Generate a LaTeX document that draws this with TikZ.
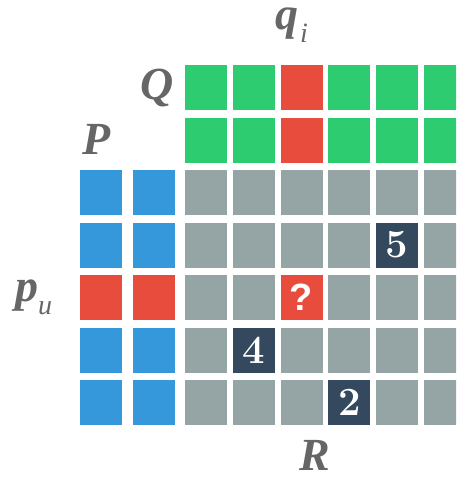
\documentclass[tikz,border=0pt]{standalone}
\usepackage{fontspec}
\usepackage{xcolor}
\usepackage{tikz}
\usetikzlibrary{positioning}
\newfontfamily\lblfont{Liberation Serif}
\newfontfamily\qryfont{Liberation Sans}
\definecolor{qgreen}{HTML}{2ECC71}
\definecolor{pblue}{HTML}{3498DB}
\definecolor{hotred}{HTML}{E74C3C}
\definecolor{rgray}{HTML}{95A5A6}
\definecolor{knowndark}{HTML}{34495E}
\definecolor{lblgray}{HTML}{666666}
\newcommand{\lblsub}[1]{\raisebox{-6.5pt}{\fontsize{14}{14}\selectfont\mdseries #1}}
\tikzset{
  cell/.style={minimum width=21pt, minimum height=22.5pt, inner sep=0pt},
  known/.style={cell, fill=knowndark, text=white,
                font=\fontsize{20}{20}\selectfont\bfseries},
  query/.style={cell, fill=hotred, text=white,
                font=\fontsize{19}{19}\selectfont\qryfont\bfseries},
  lbl/.style={inner sep=0pt, text=lblgray,
              font=\fontsize{23}{23}\selectfont\lblfont\bfseries\itshape}
}

\begin{document}
\begin{tikzpicture}[x=0.5pt, y=-0.5pt]
  \clip (0,0) rectangle (456,477);

  % Q rows (item factors)
  \foreach \k in {1,2}
    \foreach \c in {1,...,6} {
      \ifnum\c=3 \def\cellcol{hotred}\else\def\cellcol{qgreen}\fi
      \node[cell, fill=\cellcol] (q-\k-\c)
        at ({206+47.8*(\c-1)}, {87.5+52.5*(\k-1)}) {};
    }

  % P columns (user factors)
  \foreach \r in {1,...,5}
    \foreach \c in {1,2} {
      \ifnum\r=3 \def\cellcol{hotred}\else\def\cellcol{pblue}\fi
      \node[cell, fill=\cellcol] (p-\r-\c)
        at ({101+53*(\c-1)}, {192.5+52.5*(\r-1)}) {};
    }

  % R grid, empty entries
  \foreach \r in {1,...,5}
    \foreach \c in {1,...,6} {
      \pgfmathtruncatemacro\isfilled{(\r==2 && \c==5) || (\r==3 && \c==3)
        || (\r==4 && \c==2) || (\r==5 && \c==4)}
      \ifnum\isfilled=0
        \node[cell, fill=rgray] (r-\r-\c)
          at ({206+47.8*(\c-1)}, {192.5+52.5*(\r-1)}) {};
      \fi
    }

  % R grid, known ratings and the query
  \foreach \r/\c/\v in {2/5/5, 4/2/4, 5/4/2}
    \node[known] (r-\r-\c)
      at ({206+47.8*(\c-1)}, {192.5+52.5*(\r-1)}) {\v};
  \node[query] (r-3-3) at ({206+47.8*2}, {192.5+52.5*2}) {?};

  % Labels
  \node[lbl, above=11pt of q-1-3, xshift=-5pt] (qi) {q\hspace{1pt}\lblsub{i}};
  \node[lbl, left=5pt of q-1-1] (Q) {Q};
  \node[lbl, above=7.5pt of p-1-1, xshift=-2pt] (P) {P};
  \node[lbl, left=13.5pt of p-3-1] (pu) {p\lblsub{u}};
  \node[lbl, below=7.5pt of r-5-3, xshift=6.5pt] (R) {R};
\end{tikzpicture}
\end{document}
